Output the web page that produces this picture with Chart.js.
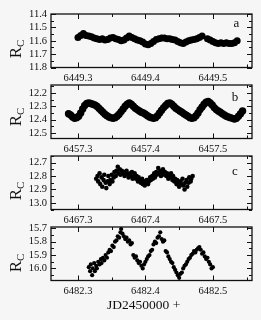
<!DOCTYPE html>
<html><head><meta charset="utf-8">
<script src="https://cdn.jsdelivr.net/npm/chart.js@4.4.1/dist/chart.umd.min.js"></script>
<style>
html,body{margin:0;padding:0;background:#f6f6f6;}
#wrap{position:relative;width:261px;height:320px;overflow:hidden;font-family:"Liberation Serif","DejaVu Serif",serif;color:#111;}
canvas{position:absolute;left:0;}
.yl{position:absolute;left:-3.75px;width:40px;height:20px;line-height:20px;text-align:center;font-size:17px;transform:rotate(-90deg);white-space:nowrap;}
.yl span{font-size:11px;position:relative;top:3px;}
.lt{position:absolute;font-size:13px;line-height:13px;}
#xt{position:absolute;left:107px;top:297px;font-size:13.5px;line-height:15px;white-space:nowrap;}
</style>
</head><body>
<div id="wrap">
<canvas id="ca" width="261" height="85" style="top:0px"></canvas>
<canvas id="cb" width="261" height="85" style="top:71px"></canvas>
<canvas id="cc" width="261" height="85" style="top:142px"></canvas>
<canvas id="cd" width="261" height="85" style="top:213px"></canvas>
<div class="yl" style="top:39px">R<span>C</span></div>
<div class="yl" style="top:106.5px">R<span>C</span></div>
<div class="yl" style="top:180.8px">R<span>C</span></div>
<div class="yl" style="top:252.5px">R<span>C</span></div>
<div class="lt" style="left:233.6px;top:15.8px">a</div>
<div class="lt" style="left:231.7px;top:89.8px">b</div>
<div class="lt" style="left:232px;top:163.6px">c</div>
<div id="xt">JD2450000 +</div>
</div>
<script>
// ---- panel a ----
const jdA = [6449.300,6449.304,6449.308,6449.312,6449.316,6449.320,6449.324,6449.328,6449.332,6449.336,6449.340,6449.344,6449.348,6449.352,6449.356,6449.360,6449.364,6449.368,6449.372,6449.376,6449.380,6449.384,6449.388,6449.392,6449.396,6449.400,6449.404,6449.408,6449.412,6449.416,6449.420,6449.424,6449.428,6449.432,6449.436,6449.440,6449.444,6449.448,6449.452,6449.456,6449.460,6449.464,6449.468,6449.472,6449.476,6449.480,6449.484,
  6449.492,6449.496,6449.500,6449.504,6449.508,6449.512,6449.516,6449.520,6449.524,6449.528,6449.532,6449.536];
const magA = [11.575,11.56,11.545,11.56,11.565,11.57,11.58,11.585,11.59,11.585,11.595,11.59,11.58,11.575,11.585,11.59,11.60,11.595,11.58,11.565,11.575,11.585,11.595,11.60,11.61,11.625,11.63,11.62,11.605,11.59,11.585,11.58,11.58,11.585,11.585,11.59,11.595,11.605,11.615,11.62,11.61,11.60,11.595,11.59,11.585,11.575,11.565,
  11.585,11.595,11.605,11.615,11.62,11.615,11.62,11.615,11.62,11.62,11.615,11.60];
const xTicksA = [6449.3,6449.4,6449.5];
const yTicksA = [11.4,11.5,11.6,11.7,11.8];

// ---- panel b ----
const jdB = [6457.286,6457.289,6457.292,6457.295,6457.298,6457.301,6457.304,6457.307,6457.310,6457.313,6457.316,6457.319,6457.322,6457.325,6457.328,6457.331,6457.334,6457.337,6457.340,6457.343,6457.346,6457.349,6457.352,6457.355,6457.358,6457.361,6457.364,6457.367,6457.370,6457.373,6457.376,6457.379,6457.382,6457.385,6457.388,6457.391,6457.394,6457.397,6457.400,6457.403,6457.406,6457.409,6457.412,6457.415,6457.418,6457.421,6457.424,6457.427,6457.430,6457.433,6457.436,6457.439,6457.442,6457.445,6457.448,6457.451,6457.454,6457.457,6457.460,6457.463,6457.466,6457.469,6457.472,6457.475,6457.478,6457.481,6457.484,6457.487,6457.490,6457.493,6457.496,6457.499,6457.502,6457.505,6457.508,6457.511,6457.514,6457.517,6457.520,6457.523,6457.526,6457.529,6457.532,6457.535,6457.538,6457.541,6457.544];
const magB = [12.355,12.365,12.380,12.390,12.385,12.375,12.350,12.320,12.295,12.280,12.275,12.280,12.285,12.290,12.300,12.315,12.330,12.345,12.360,12.370,12.380,12.385,12.390,12.385,12.375,12.360,12.340,12.320,12.300,12.285,12.275,12.285,12.300,12.315,12.325,12.335,12.345,12.350,12.360,12.370,12.380,12.385,12.390,12.385,12.370,12.350,12.330,12.310,12.295,12.280,12.275,12.285,12.300,12.315,12.325,12.335,12.345,12.355,12.365,12.375,12.385,12.390,12.385,12.370,12.350,12.325,12.305,12.285,12.270,12.265,12.275,12.290,12.310,12.325,12.335,12.345,12.355,12.365,12.375,12.380,12.385,12.390,12.395,12.390,12.375,12.355,12.335];
const xTicksB = [6457.3,6457.4,6457.5];
const yTicksB = [12.2,12.3,12.4,12.5];

// ---- panel c ----
const jdC = [6467.327,6467.329,6467.330,6467.332,6467.333,6467.335,6467.336,6467.338,6467.339,6467.341,6467.342,6467.344,6467.345,6467.347,6467.348,6467.350,6467.351,6467.353,6467.354,6467.356,6467.357,6467.359,6467.360,6467.362,6467.363,6467.365,6467.366,6467.368,6467.369,6467.371,6467.372,6467.374,6467.375,6467.377,6467.378,6467.380,6467.381,6467.383,6467.384,6467.386,6467.387,6467.389,6467.390,6467.392,6467.393,6467.395,6467.396,6467.398,6467.399,6467.401,6467.402,6467.404,6467.405,6467.407,6467.408,6467.410,6467.411,6467.413,6467.414,6467.416,6467.417,6467.419,6467.420,6467.422,6467.423,6467.425,6467.426,6467.428,6467.429,6467.431,6467.432,6467.434,6467.435,6467.437,6467.438,6467.440,6467.441,6467.443,6467.444,6467.446,6467.447,6467.449,6467.450,6467.452,6467.453,6467.455,6467.456,6467.458,6467.459,6467.461,6467.462,6467.464,6467.465,6467.467,6467.468,6467.470];
const magC = [12.82,12.80,12.84,12.78,12.86,12.81,12.88,12.83,12.79,12.85,12.89,12.84,12.80,12.86,12.83,12.79,12.84,12.81,12.77,12.80,12.76,12.73,12.78,12.75,12.79,12.76,12.78,12.77,12.80,12.78,12.76,12.79,12.81,12.78,12.80,12.77,12.82,12.80,12.78,12.82,12.80,12.84,12.81,12.83,12.85,12.82,12.86,12.84,12.87,12.85,12.83,12.86,12.84,12.81,12.83,12.80,12.82,12.78,12.81,12.77,12.79,12.74,12.78,12.76,12.80,12.78,12.75,12.79,12.77,12.80,12.78,12.82,12.79,12.81,12.78,12.83,12.80,12.84,12.82,12.86,12.83,12.85,12.88,12.84,12.86,12.82,12.87,12.90,12.85,12.83,12.88,12.85,12.81,12.84,12.82,12.80];
const xTicksC = [6467.3,6467.4,6467.5];
const yTicksC = [12.7,12.8,12.9,13.0];

// ---- panel d ----
const jdD = [6482.316,6482.318,6482.319,6482.321,6482.322,6482.324,6482.325,6482.327,6482.328,6482.330,6482.332,6482.334,6482.335,6482.337,6482.339,6482.341,6482.343,6482.345,6482.347,6482.349,6482.351,6482.353,6482.355,6482.357,6482.359,6482.361,6482.363,6482.364,6482.366,6482.368,6482.370,6482.372,6482.374,6482.376,6482.378,6482.380,6482.382,6482.384,6482.386,6482.388,6482.390,6482.392,6482.394,6482.396,6482.398,6482.400,6482.402,6482.404,6482.406,6482.408,6482.410,6482.412,6482.414,6482.416,6482.418,6482.420,6482.422,6482.424,6482.426,6482.428,6482.430,6482.432,6482.434,6482.436,6482.438,6482.440,6482.442,6482.444,6482.446,6482.448,6482.450,6482.452,6482.454,6482.456,6482.458,6482.460,6482.462,6482.464,6482.466,6482.468,6482.470,6482.472,6482.474,6482.476,6482.478,6482.480,6482.482,6482.484,6482.486,6482.488,6482.490,6482.492,6482.494,6482.496,6482.498,6482.500];
const magD = [15.99,16.02,15.97,16.05,16.00,15.96,16.02,15.98,16.00,15.95,15.97,15.93,15.96,15.92,15.94,15.90,15.92,15.88,15.86,15.87,15.83,15.84,15.80,15.79,15.76,15.77,15.73,15.705,15.74,15.76,15.78,15.77,15.80,15.79,15.82,15.81,15.90,15.92,15.91,15.94,15.96,15.95,15.98,16.00,15.97,15.95,15.93,15.91,15.90,15.87,15.86,15.82,15.80,15.81,15.77,15.76,15.73,15.78,15.80,15.79,15.87,15.88,15.91,15.93,15.95,15.96,15.99,16.01,16.03,16.05,16.07,16.04,16.03,16.00,15.98,15.97,15.95,15.93,15.92,15.90,15.89,15.87,15.88,15.86,15.85,15.84,15.86,15.89,15.88,15.91,15.93,15.92,15.95,15.97,16.00,15.99];
const xTicksD = [6482.3,6482.4,6482.5];
const yTicksD = [15.7,15.8,15.9,16.0];

const frame = {
  id: 'frame',
  afterDraw(chart, args, opts) {
    const {ctx, chartArea: a, scales: {x, y}} = chart;
    ctx.save();
    ctx.strokeStyle = '#111';
    ctx.lineWidth = 1;
    ctx.beginPath();
    for (let k = Math.ceil(x.min / 0.05 - 1e-6); k <= Math.floor(x.max / 0.05 + 1e-6); k++) {
      const p = Math.round(x.getPixelForValue(k * 0.05)) + 0.5;
      const L = (k % 2 === 0) ? 5 : 3;
      ctx.moveTo(p, a.bottom); ctx.lineTo(p, a.bottom - L);
      ctx.moveTo(p, a.top); ctx.lineTo(p, a.top + L);
    }
    for (let k = Math.ceil(y.min / 0.05 - 1e-6); k <= Math.floor(y.max / 0.05 + 1e-6); k++) {
      const p = Math.round(y.getPixelForValue(k * 0.05)) + 0.5;
      const L = (k % 2 === 0) ? 5 : 3;
      ctx.moveTo(a.left, p); ctx.lineTo(a.left + L, p);
      ctx.moveTo(a.right, p); ctx.lineTo(a.right - L, p);
    }
    ctx.stroke();
    ctx.lineWidth = 1.3;
    ctx.strokeRect(a.left, a.top, a.right - a.left, a.bottom - a.top);
    ctx.restore();
  }
};

const tickFont = {family: "'Liberation Serif', serif", size: 10.5};

function panel(id, jd, mag, xr, yr, xt, yt, rad) {
  const pts = jd.map((v, i) => ({x: v, y: mag[i]}));
  new Chart(document.getElementById(id), {
    type: 'scatter',
    data: {datasets: [{data: pts, backgroundColor: '#000', borderWidth: 0, pointRadius: rad, pointHoverRadius: rad}]},
    options: {
      responsive: false, animation: false, events: [],
      layout: {padding: {top: 14, right: 9, left: 0, bottom: 0}},
      plugins: {legend: {display: false}, tooltip: {enabled: false}},
      scales: {
        x: {
          type: 'linear', min: xr[0], max: xr[1],
          grid: {display: false, drawTicks: false}, border: {display: false},
          afterFit: s => { s.height = 17.5; },
          afterBuildTicks: s => { s.ticks = xt.map(v => ({value: v})); },
          ticks: {padding: 4, color: '#111', font: tickFont, maxRotation: 0, autoSkip: false, callback: v => Number(v).toFixed(1)}
        },
        y: {
          type: 'linear', reverse: true, min: yr[0], max: yr[1],
          grid: {display: false, drawTicks: false}, border: {display: false},
          afterFit: s => { s.width = 51; },
          afterBuildTicks: s => { s.ticks = yt.map(v => ({value: v})); },
          ticks: {padding: 4, color: '#111', font: tickFont, autoSkip: false, callback: v => Number(v).toFixed(1)}
        }
      }
    },
    plugins: [frame]
  });
}

panel('ca', jdA, magA, [6449.26, 6449.558], [11.4, 11.8], xTicksA, yTicksA, 3.5);
panel('cb', jdB, magB, [6457.26, 6457.558], [12.142, 12.54], xTicksB, yTicksB, 3.7);
panel('cc', jdC, magC, [6467.26, 6467.558], [12.65, 13.05], xTicksC, yTicksC, 2.3);
panel('cd', jdD, magD, [6482.26, 6482.558], [15.69, 16.09], xTicksD, yTicksD, 2.1);
</script>
</body></html>
